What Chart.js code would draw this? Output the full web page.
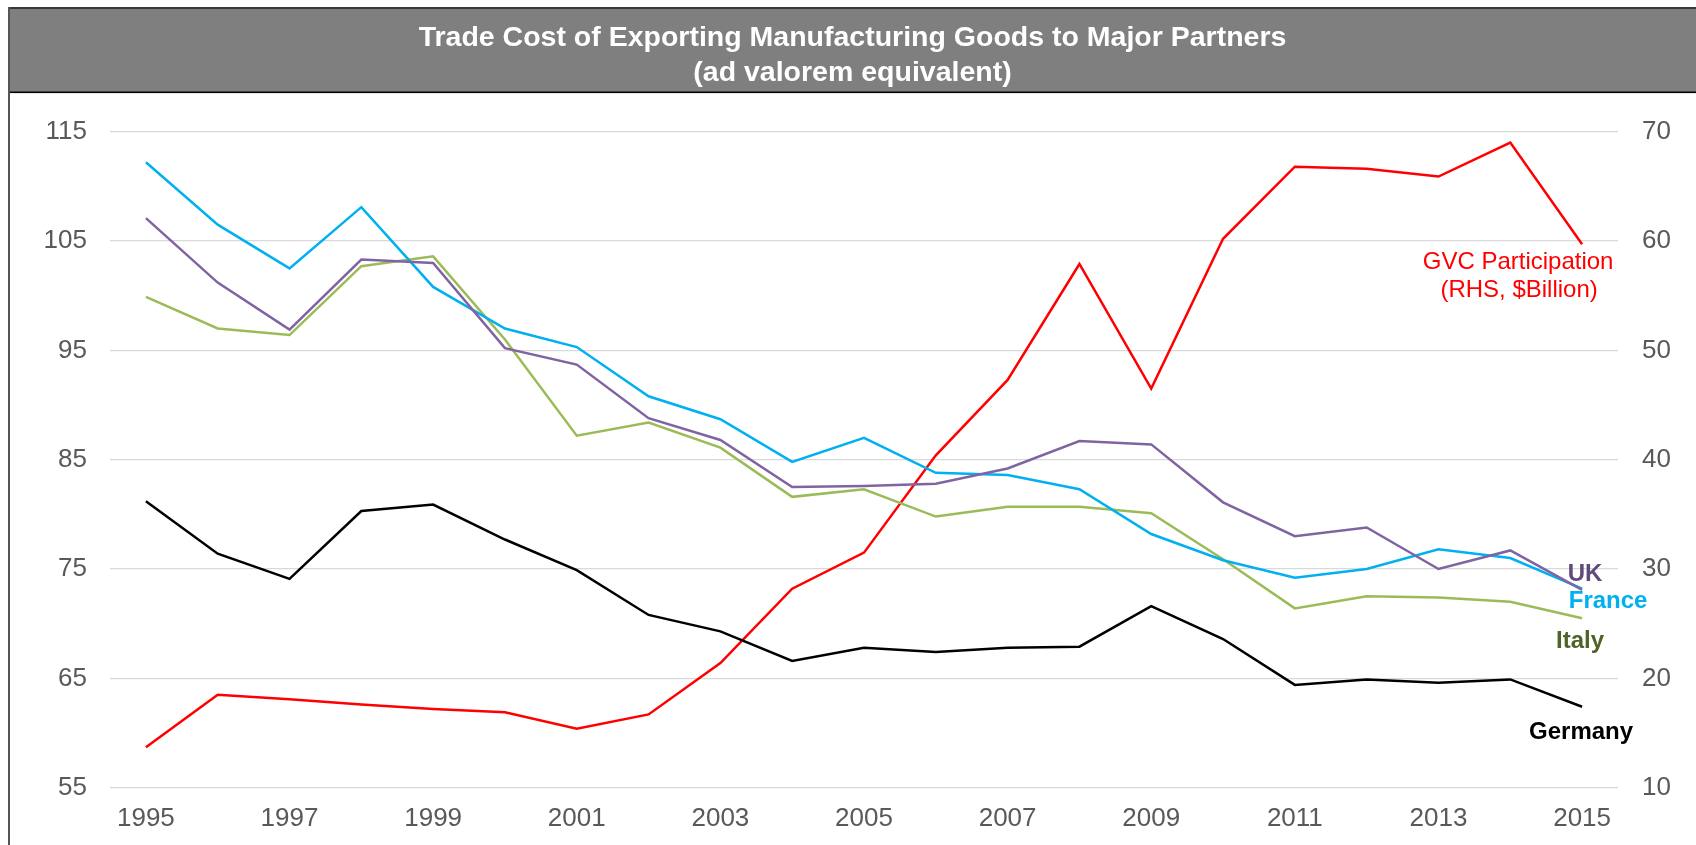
<!DOCTYPE html>
<html>
<head>
<meta charset="utf-8">
<title>Trade Cost of Exporting Manufacturing Goods to Major Partners</title>
<script src="https://cdn.jsdelivr.net/npm/chart.js@4.4.1/dist/chart.umd.min.js"></script>
<style>
  html, body { margin: 0; padding: 0; background: #fff; overflow: hidden; }
  canvas { display: block; }
</style>
</head>
<body>
<canvas id="tradeChart" width="1696" height="845"></canvas>
<script>
// years on the x axis
const years = ['1995', '1996', '1997', '1998', '1999', '2000', '2001', '2002', '2003', '2004',
  '2005', '2006', '2007', '2008', '2009', '2010', '2011', '2012', '2013', '2014', '2015'];

// trade cost, ad valorem equivalent (left axis)
const france = [112.2, 106.5, 102.5, 108.1, 100.8, 97.0, 95.3, 90.8, 88.7, 84.8,
  87.0, 83.8, 83.6, 82.3, 78.2, 75.8, 74.2, 75.0, 76.8, 76.0, 73.2];
const uk = [107.1, 101.2, 96.9, 103.3, 103.0, 95.2, 93.7, 88.8, 86.8, 82.5,
  82.6, 82.8, 84.2, 86.7, 86.4, 81.1, 78.0, 78.8, 75.0, 76.7, 73.1];
const italy = [99.9, 97.0, 96.4, 102.7, 103.6, 96.0, 87.2, 88.4, 86.1, 81.6,
  82.3, 79.8, 80.7, 80.7, 80.1, 75.9, 71.4, 72.5, 72.4, 72.0, 70.5];
const germany = [81.2, 76.4, 74.1, 80.3, 80.9, 77.7, 74.9, 70.8, 69.3, 66.6,
  67.8, 67.4, 67.8, 67.9, 71.6, 68.6, 64.4, 64.9, 64.6, 64.9, 62.4];

// GVC participation, $ billion (right axis)
const gvc = [13.7, 18.5, 18.1, 17.6, 17.2, 16.9, 15.4, 16.7, 21.4, 28.2,
  31.5, 40.4, 47.3, 57.9, 46.5, 60.2, 66.8, 66.6, 65.9, 69.0, 59.7];

const FONT = '"Liberation Sans", Arial, sans-serif';

// grey title band with its frame
const frame = {
  id: 'frame',
  beforeDraw(chart) {
    const ctx = chart.ctx;
    ctx.save();
    ctx.fillStyle = '#fff';
    ctx.fillRect(0, 0, chart.width, chart.height);
    ctx.fillStyle = '#7f7f7f';
    ctx.fillRect(9, 8, chart.width - 9, 84);
    ctx.fillStyle = '#383838';
    ctx.fillRect(8, 7, chart.width - 8, 2);
    ctx.fillStyle = '#000';
    ctx.fillRect(9, 91.5, chart.width - 9, 1.6);
    ctx.fillStyle = '#555';
    ctx.fillRect(8, 7, 2, chart.height - 7);
    ctx.restore();
  }
};

// series names next to the last point of each line
const seriesLabels = {
  id: 'seriesLabels',
  afterDatasetsDraw(chart) {
    const ctx = chart.ctx;
    const tags = [
      { ds: 0, lines: ['UK'], dx: 3, dy: -15, color: '#604a7b', bold: true },
      { ds: 1, lines: ['France'], dx: 26, dy: 13, color: '#00b0f0', bold: true },
      { ds: 2, lines: ['Italy'], dx: -2, dy: 23, color: '#4f6228', bold: true },
      { ds: 3, lines: ['Germany'], dx: -1, dy: 26, color: '#000', bold: true },
      { ds: 4, lines: ['GVC Participation', '(RHS, $Billion)'], dx: -64, dy: 18, color: '#ff0000', bold: false }
    ];
    ctx.save();
    ctx.textAlign = 'center';
    ctx.textBaseline = 'middle';
    tags.forEach(t => {
      const pts = chart.getDatasetMeta(t.ds).data;
      const last = pts[pts.length - 1];
      ctx.fillStyle = t.color;
      ctx.font = (t.bold ? 'bold ' : '') + '24px ' + FONT;
      t.lines.forEach((txt, i) => {
        ctx.fillText(txt, last.x + t.dx + i, last.y + t.dy + i * 28);
      });
    });
    ctx.restore();
  }
};

function line(label, data, color, axis) {
  return {
    label,
    data,
    yAxisID: axis,
    borderColor: color,
    backgroundColor: color,
    borderWidth: 2.5,
    pointRadius: 0,
    tension: 0,
    fill: false
  };
}

const tickFont = { family: FONT, size: 26 };

new Chart(document.getElementById('tradeChart'), {
  type: 'line',
  data: {
    labels: years,
    datasets: [
      line('UK', uk, '#8064a2', 'y'),
      line('France', france, '#00b0f0', 'y'),
      line('Italy', italy, '#9bbb59', 'y'),
      line('Germany', germany, '#000000', 'y'),
      line('GVC Participation (RHS, $Billion)', gvc, '#ff0000', 'y1')
    ]
  },
  options: {
    responsive: false,
    animation: false,
    devicePixelRatio: 1,
    layout: { padding: { top: 0, left: 9, right: 0, bottom: 0 } },
    plugins: {
      legend: { display: false },
      tooltip: { enabled: false },
      title: {
        display: true,
        text: ['Trade Cost of Exporting Manufacturing Goods to Major Partners', '(ad valorem equivalent)'],
        color: '#fff',
        font: { family: FONT, size: 28.5, weight: 'bold', lineHeight: 1.24 },
        padding: { top: 20, bottom: 41 }
      }
    },
    scales: {
      x: {
        offset: true,
        grid: { display: false },
        border: { display: false },
        ticks: {
          color: '#595959',
          font: tickFont,
          padding: 8,
          maxRotation: 0,
          autoSkip: false,
          callback: (v, i) => (i % 2 === 0 ? years[i] : '')
        },
        afterFit: s => { s.height = 57.3; }
      },
      y: {
        position: 'left',
        min: 55,
        max: 115,
        grid: { color: '#d9d9d9', lineWidth: 1.3, drawTicks: false },
        border: { display: false },
        ticks: { stepSize: 10, color: '#595959', font: tickFont, padding: 23 },
        afterFit: s => { s.width = 101; }
      },
      y1: {
        position: 'right',
        min: 10,
        max: 70,
        grid: { drawOnChartArea: false, drawTicks: false },
        border: { display: false },
        ticks: { stepSize: 10, color: '#595959', font: tickFont, padding: 24 },
        afterFit: s => { s.width = 78; }
      }
    }
  },
  plugins: [frame, seriesLabels]
});
</script>
</body>
</html>
